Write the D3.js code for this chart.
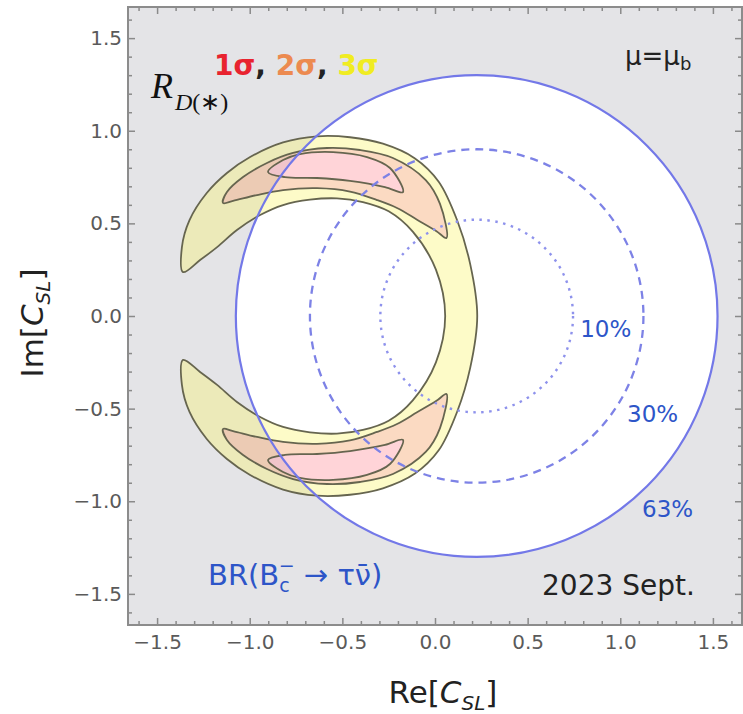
<!DOCTYPE html>
<html>
<head>
<meta charset="utf-8">
<script src="https://d3js.org/d3.v7.min.js"></script>
<style>
  body { margin: 0; background: #fff; }
  svg { display: block; font-family: "DejaVu Sans", sans-serif; }
</style>
</head>
<body>
<svg id="chart" width="743" height="714"></svg>
<script>
// tick values
const majorTicks = [-1.5, -1.0, -0.5, 0.0, 0.5, 1.0, 1.5];
const minorTicks = [-1.6, -1.4, -1.3, -1.2, -1.1, -0.9, -0.8, -0.7, -0.6, -0.4, -0.3, -0.2, -0.1,
                    0.1, 0.2, 0.3, 0.4, 0.6, 0.7, 0.8, 0.9, 1.1, 1.2, 1.3, 1.4, 1.6];

// BR(Bc -> tau nu) contours, circles centred on the real axis
const brLabels = ["10%", "30%", "63%"];
const brRadius = [0.52, 0.90, 1.30];
const brCenter = [0.225, 0.0];

// R_D(*) allowed regions, upper half plane only (lower half is the mirror image)
// 3 sigma band: outer and inner edge, from the left tip round to the real axis
const sigma3Outer = [[-1.360, 0.237], [-1.366, 0.372], [-1.325, 0.518], [-1.232, 0.664], [-1.123, 0.772],
                     [-0.998, 0.858], [-0.820, 0.937], [-0.637, 0.970], [-0.459, 0.965], [-0.281, 0.930],
                     [-0.110, 0.852], [0.020, 0.725], [0.119, 0.518], [0.190, 0.280], [0.228, 0.0]];
const sigma3Inner = [[-1.268, 0.302], [-1.176, 0.372], [-1.069, 0.464], [-0.944, 0.545], [-0.820, 0.599],
                     [-0.675, 0.628], [-0.529, 0.635], [-0.389, 0.615], [-0.250, 0.565], [-0.120, 0.455],
                     [0.005, 0.250], [0.055, 0.0]];
// 2 sigma crescent (closed loop)
const sigma2Upper = [[-1.144, 0.610], [-1.123, 0.669], [-1.036, 0.750], [-0.907, 0.826], [-0.766, 0.880],
                     [-0.583, 0.907], [-0.405, 0.896], [-0.227, 0.853], [-0.050, 0.734], [0.027, 0.605],
                     [0.062, 0.421], [0.008, 0.458], [-0.097, 0.520], [-0.205, 0.583], [-0.313, 0.626],
                     [-0.459, 0.672], [-0.637, 0.690], [-0.820, 0.680], [-0.961, 0.653], [-1.090, 0.621]];
// 1 sigma crescent (closed loop)
const sigma1Upper = [[-0.901, 0.777], [-0.820, 0.842], [-0.729, 0.874], [-0.550, 0.885], [-0.367, 0.858],
                     [-0.243, 0.799], [-0.173, 0.669], [-0.270, 0.696], [-0.459, 0.729], [-0.637, 0.745],
                     [-0.810, 0.750]];
const sigmaLabels = ["1σ", "2σ", "3σ"];
const sigmaColors = ["#e8232f", "#ec8a50", "#f0ec22"];

const svg = d3.select("#chart");
const plot = { left: 128, right: 742, top: 7, bottom: 625 };

const x = d3.scaleLinear().domain([-1.657, 1.657]).range([plot.left, plot.right]);
const y = d3.scaleLinear().domain([-1.668, 1.668]).range([plot.bottom, plot.top]);

svg.append("clipPath").attr("id", "clip")
  .append("rect")
  .attr("x", plot.left).attr("y", plot.top)
  .attr("width", plot.right - plot.left).attr("height", plot.bottom - plot.top);

const g = svg.append("g").attr("clip-path", "url(#clip)");

g.append("rect")
  .attr("x", plot.left).attr("y", plot.top)
  .attr("width", plot.right - plot.left).attr("height", plot.bottom - plot.top)
  .attr("fill", "#e4e4e7");

// white disk inside the 63% contour
const rOuter = brRadius[brRadius.length - 1];
g.append("ellipse")
  .attr("cx", x(brCenter[0])).attr("cy", y(brCenter[1]))
  .attr("rx", x(brCenter[0] + rOuter) - x(brCenter[0]))
  .attr("ry", y(0) - y(rOuter))
  .attr("fill", "#fff");

// crescents
const mirror = pts => pts.map(d => [d[0], -d[1]]);
const line = d3.line()
  .x(d => x(d[0]))
  .y(d => y(d[1]))
  .curve(d3.curveCatmullRomClosed.alpha(0.5));

const yellowLoop = [
  ...sigma3Outer,
  ...mirror(sigma3Outer).reverse().slice(1),
  ...mirror(sigma3Inner),
  ...sigma3Inner.slice().reverse().slice(1)
];
const yellowD = line(yellowLoop);
const orangeD = line(sigma2Upper) + line(mirror(sigma2Upper));
const redD = line(sigma1Upper) + line(mirror(sigma1Upper));

g.append("path").attr("d", yellowD + orangeD)
  .attr("fill-rule", "evenodd").attr("fill", "rgb(250,244,110)").attr("fill-opacity", 0.38);
g.append("path").attr("d", orangeD + redD)
  .attr("fill-rule", "evenodd").attr("fill", "rgb(246,170,116)").attr("fill-opacity", 0.44);
g.append("path").attr("d", redD)
  .attr("fill", "rgb(255,160,168)").attr("fill-opacity", 0.45);

[yellowD, orangeD, redD].forEach(d => {
  g.append("path").attr("d", d)
    .attr("fill", "none")
    .attr("stroke", "#66654f")
    .attr("stroke-width", 1.8);
});

// BR contours
const brStyles = [
  { dash: "2.5,5.5", color: "#8e92ec", width: 2.4 },
  { dash: "8,6", color: "#7d82e6", width: 2.3 },
  { dash: null, color: "#7378e8", width: 2.2 }
];
brRadius.forEach((r, i) => {
  g.append("ellipse")
    .attr("cx", x(brCenter[0])).attr("cy", y(brCenter[1]))
    .attr("rx", x(brCenter[0] + r) - x(brCenter[0]))
    .attr("ry", y(0) - y(r))
    .attr("fill", "none")
    .attr("stroke", brStyles[i].color)
    .attr("stroke-width", brStyles[i].width)
    .attr("stroke-dasharray", brStyles[i].dash);
});

// contour labels, placed just outside each circle
const labelAngle = [-5.7, -29, -45.3];
const labelPad = [0.18, 0.186, 0.165];
brLabels.forEach((t, i) => {
  const a = labelAngle[i] * Math.PI / 180;
  const rr = brRadius[i] + labelPad[i];
  svg.append("text")
    .attr("x", x(brCenter[0] + rr * Math.cos(a)))
    .attr("y", y(brCenter[1] + rr * Math.sin(a)))
    .attr("dy", "0.36em")
    .attr("text-anchor", "middle")
    .attr("font-size", 23)
    .attr("fill", "#2d55c8")
    .text(t);
});

// axes: ticks on all four sides, pointing inwards
const fmt = d3.format(".1f");
function styleAxis(sel) {
  sel.select(".domain").remove();
  sel.selectAll(".tick line").attr("stroke", "#8a8a8a").attr("stroke-width", 1.5);
  sel.selectAll(".tick text").attr("fill", "#5a5a5a").attr("font-size", 20)
    .attr("font-family", "DejaVu Sans, sans-serif");
}
function addAxes(axisFn, pos, transform, labelled) {
  svg.append("g").attr("transform", transform)
    .call(axisFn(pos).tickValues(majorTicks).tickSizeInner(-7).tickSizeOuter(0)
      .tickPadding(labelled ? (axisFn === d3.axisBottom ? 10 : 6) : 0)
      .tickFormat(labelled ? fmt : ""))
    .call(styleAxis);
  svg.append("g").attr("transform", transform)
    .call(axisFn(pos).tickValues(minorTicks).tickSizeInner(-4).tickSizeOuter(0).tickFormat(""))
    .call(styleAxis);
}
addAxes(d3.axisBottom, x, `translate(0,${plot.bottom})`, true);
addAxes(d3.axisTop, x, `translate(0,${plot.top})`, false);
addAxes(d3.axisLeft, y, `translate(${plot.left},0)`, true);
addAxes(d3.axisRight, y, `translate(${plot.right},0)`, false);

svg.append("rect")
  .attr("x", plot.left).attr("y", plot.top)
  .attr("width", plot.right - plot.left).attr("height", plot.bottom - plot.top)
  .attr("fill", "none").attr("stroke", "#8c8c8c").attr("stroke-width", 2);

// axis titles
const xt = svg.append("text")
  .attr("x", 443).attr("y", 703)
  .attr("text-anchor", "middle").attr("font-size", 31).attr("fill", "#222");
xt.append("tspan").text("Re[");
xt.append("tspan").attr("font-style", "italic").text("C");
xt.append("tspan").attr("font-style", "italic").attr("font-size", 20).attr("dy", 7).text("SL");
xt.append("tspan").attr("dy", -7).text("]");

const yt = svg.append("text")
  .attr("transform", "translate(43,323) rotate(-90)")
  .attr("text-anchor", "middle").attr("font-size", 31).attr("fill", "#222");
yt.append("tspan").text("Im[");
yt.append("tspan").attr("font-style", "italic").text("C");
yt.append("tspan").attr("font-style", "italic").attr("font-size", 20).attr("dy", 7).text("SL");
yt.append("tspan").attr("dy", -7).text("]");

// R_D(*) label
const rd = svg.append("text")
  .attr("x", 151).attr("y", 98)
  .attr("font-family", "Liberation Serif, serif").attr("fill", "#111");
rd.append("tspan").attr("font-style", "italic").attr("font-size", 36).text("R");
rd.append("tspan").attr("font-style", "italic").attr("font-size", 24).attr("dy", 12).attr("dx", 2).text("D");
rd.append("tspan").attr("font-size", 24).text("(∗)");

// 1σ, 2σ, 3σ
const sl = svg.append("text").attr("x", 214).attr("y", 75)
  .attr("font-size", 28).attr("font-weight", "bold");
sigmaLabels.forEach((t, i) => {
  sl.append("tspan").attr("fill", sigmaColors[i]).text(t);
  if (i < sigmaLabels.length - 1) sl.append("tspan").attr("fill", "#222").text(", ");
});

// mu = mu_b
const mu = svg.append("text").attr("x", 625).attr("y", 65).attr("font-size", 26).attr("fill", "#222");
mu.append("tspan").text("μ=μ");
mu.append("tspan").attr("font-size", 18).attr("dy", 5).text("b");

// BR(Bc- -> tau nubar)
const br = svg.append("text").attr("x", 208).attr("y", 585).attr("font-size", 29).attr("fill", "#2d55c8");
br.append("tspan").text("BR(B");
br.append("tspan").attr("font-size", 19).attr("dy", 7).text("c");
br.append("tspan").attr("font-size", 19).attr("dx", -11).attr("dy", -20).text("−");
br.append("tspan").attr("dy", 13).text(" → τν̄)");

svg.append("text").attr("x", 542).attr("y", 595)
  .attr("font-size", 28).attr("fill", "#222")
  .text("2023 Sept.");
</script>
</body>
</html>
